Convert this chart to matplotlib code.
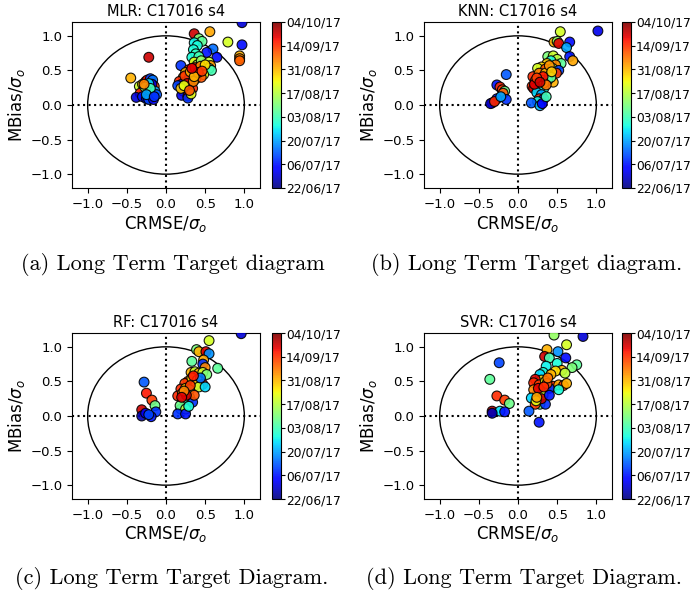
import numpy as np
import matplotlib
matplotlib.use('Agg')
import matplotlib.pyplot as plt
from matplotlib.patches import Circle

# colour axis: day index since 22/06/17
date_labels = ['22/06/17', '06/07/17', '20/07/17', '03/08/17',
               '17/08/17', '31/08/17', '14/09/17', '04/10/17']
n_days = 104

# MLR
mlr_x = [-0.45, -0.22, -0.34, -0.30, -0.26, -0.24, -0.20, -0.17, -0.15, -0.18, -0.22, -0.28, -0.33, -0.18,
         -0.22, -0.14, -0.38, -0.30, -0.25, -0.22, -0.16, -0.12, -0.27, -0.20, -0.25, -0.15, -0.28,
         0.97, 0.56, 0.36, 0.42, 0.46, 0.36, 0.40, 0.79, 0.97, 0.60, 0.52, 0.65, 0.94, 0.94, 0.94,
         0.35, 0.38, 0.33, 0.42, 0.36, 0.40, 0.45, 0.55, 0.57, 0.55, 0.58, 0.19, 0.29, 0.42, 0.35,
         0.25, 0.32, 0.48, 0.22, 0.17, 0.20, 0.27, 0.38, 0.30, 0.25, 0.34, 0.22, 0.28, 0.20, 0.28,
         0.28, 0.32, 0.15, 0.40, 0.45, 0.30,
         0.24, 0.31, 0.37, 0.44, 0.50, 0.27, 0.19, 0.35, 0.41, 0.23, 0.30, 0.36, 0.46, 0.33]
mlr_y = [0.39, 0.69, 0.27, 0.30, 0.34, 0.36, 0.38, 0.36, 0.27, 0.30, 0.31, 0.22, 0.17, 0.18,
         0.19, 0.20, 0.11, 0.12, 0.09, 0.08, 0.08, 0.15, 0.26, 0.24, 0.15, 0.12, 0.30,
         1.19, 1.06, 1.03, 0.96, 0.92, 0.90, 0.86, 0.91, 0.87, 0.81, 0.76, 0.69, 0.71, 0.67, 0.64,
         0.80, 0.74, 0.69, 0.70, 0.62, 0.58, 0.64, 0.62, 0.57, 0.53, 0.50, 0.57, 0.51, 0.50, 0.50,
         0.47, 0.44, 0.44, 0.40, 0.34, 0.30, 0.35, 0.38, 0.30, 0.25, 0.24, 0.20, 0.18, 0.14, 0.13,
         0.10, 0.16, 0.28, 0.45, 0.40, 0.40,
         0.42, 0.48, 0.54, 0.56, 0.58, 0.31, 0.24, 0.34, 0.47, 0.28, 0.21, 0.41, 0.49, 0.53]
mlr_d = [75, 97, 62, 72, 88, 92, 20, 25, 88, 10, 35, 90, 90, 50,
         38, 30, 8, 15, 5, 20, 12, 22, 55, 45, 30, 18, 80,
         8, 76, 97, 52, 48, 38, 40, 63, 14, 24, 15, 14, 75, 80, 84,
         40, 43, 40, 45, 65, 58, 55, 62, 78, 50, 45, 18, 90, 92, 70,
         75, 62, 65, 80, 90, 10, 85, 55, 60, 40, 90, 52, 30, 10, 97,
         18, 65, 20, 35, 85, 5,
         88, 76, 92, 80, 70, 95, 72, 80, 90, 65, 85, 75, 88, 95]

# KNN
knn_x = [-0.15, -0.27, -0.23, -0.20, -0.17, -0.19, -0.27, -0.33, -0.35, -0.30, -0.15, -0.22,
         1.02, 0.54, 0.46, 0.50, 0.52, 0.66, 0.62, 0.66, 0.70, 0.38, 0.45, 0.50, 0.42, 0.55,
         0.37, 0.48, 0.30, 0.25, 0.35, 0.44, 0.52, 0.29, 0.19, 0.27, 0.35, 0.49, 0.40, 0.45,
         0.22, 0.30, 0.38, 0.18, 0.20, 0.29, 0.26, 0.33, 0.24, 0.30, 0.27, 0.33, 0.25, 0.17,
         0.28, 0.31, 0.36, 0.42, 0.21, 0.33,
         0.32, 0.40, 0.24, 0.43, 0.36, 0.28]
knn_y = [0.44, 0.29, 0.26, 0.22, 0.20, 0.17, 0.09, 0.03, 0.02, 0.05, 0.08, 0.12,
         1.07, 1.06, 0.91, 0.92, 0.89, 0.91, 0.83, 0.70, 0.64, 0.70, 0.71, 0.66, 0.64, 0.60,
         0.60, 0.58, 0.55, 0.53, 0.52, 0.53, 0.50, 0.45, 0.41, 0.46, 0.46, 0.46, 0.42, 0.33,
         0.35, 0.36, 0.36, 0.27, 0.24, 0.27, 0.22, 0.24, 0.18, 0.15, 0.09, 0.09, 0.05, 0.03,
         -0.01, 0.02, 0.12, 0.40, 0.30, 0.32,
         0.41, 0.57, 0.39, 0.48, 0.29, 0.33]
knn_d = [22, 15, 90, 88, 50, 85, 15, 97, 8, 90, 18, 30,
         10, 63, 75, 55, 95, 14, 30, 15, 76, 52, 62, 60, 40, 48,
         72, 80, 70, 63, 85, 55, 20, 92, 90, 80, 75, 88, 65, 75,
         85, 60, 35, 90, 97, 85, 95, 40, 35, 30, 90, 18, 38, 22,
         32, 12, 45, 48, 95, 70,
         92, 78, 88, 72, 82, 97]

# RF
rf_x = [-0.28, -0.25, -0.18, -0.14, -0.31, -0.13, -0.19, -0.31, -0.26, -0.22,
        0.96, 0.55, 0.39, 0.42, 0.51, 0.55, 0.33, 0.48, 0.47, 0.66, 0.50, 0.32, 0.37, 0.42,
        0.47, 0.52, 0.28, 0.24, 0.33, 0.40, 0.47, 0.38, 0.42, 0.50, 0.19, 0.25, 0.30, 0.15,
        0.21, 0.28, 0.30, 0.34, 0.22, 0.19, 0.18, 0.25, 0.15, 0.25, 0.29, 0.36, 0.26, 0.44,
        0.31, 0.23, 0.35, 0.20]
rf_y = [0.49, 0.33, 0.23, 0.15, 0.09, 0.06, -0.01, 0.00, 0.04, 0.02,
        1.19, 1.09, 0.96, 0.93, 0.93, 0.90, 0.79, 0.81, 0.75, 0.69, 0.70, 0.63, 0.64, 0.62,
        0.63, 0.60, 0.50, 0.47, 0.55, 0.52, 0.46, 0.45, 0.42, 0.42, 0.39, 0.40, 0.38, 0.29,
        0.33, 0.21, 0.27, 0.20, 0.25, 0.10, 0.15, 0.10, 0.03, 0.03, 0.14, 0.30, 0.30, 0.55,
        0.44, 0.36, 0.58, 0.27]
rf_d = [22, 92, 88, 50, 97, 18, 15, 5, 12, 20,
        8, 63, 52, 75, 95, 28, 48, 76, 18, 48, 80, 75, 62, 75,
        62, 52, 90, 88, 70, 65, 97, 75, 62, 35, 90, 72, 55, 90,
        76, 90, 62, 18, 45, 35, 50, 60, 18, 15, 40, 85, 97, 25,
        88, 80, 92, 95]

# SVR
svr_x = [-0.24, -0.36, -0.27, -0.17, -0.11, -0.33, -0.23, -0.17, -0.33,
         0.83, 0.46, 0.62, 0.37, 0.34, 0.51, 0.61, 0.75, 0.69, 0.40, 0.50, 0.56, 0.48, 0.60,
         0.36, 0.32, 0.42, 0.28, 0.30, 0.22, 0.20, 0.27, 0.35, 0.45, 0.52, 0.58, 0.62, 0.40,
         0.37, 0.25, 0.32, 0.20, 0.17, 0.28, 0.22, 0.35, 0.30, 0.14, 0.27, 0.23, 0.40, 0.52,
         0.26, 0.33, 0.38, 0.24]
svr_y = [0.77, 0.53, 0.29, 0.23, 0.18, 0.07, 0.07, 0.06, 0.04,
         1.15, 1.17, 1.03, 0.96, 0.86, 0.93, 0.84, 0.74, 0.70, 0.84, 0.76, 0.66, 0.65, 0.62,
         0.72, 0.63, 0.60, 0.60, 0.52, 0.53, 0.48, 0.45, 0.50, 0.43, 0.45, 0.44, 0.47, 0.40,
         0.47, 0.33, 0.30, 0.38, 0.26, 0.17, 0.17, 0.17, 0.25, 0.07, -0.09, 0.22, 0.30, 0.38,
         0.40, 0.42, 0.55, 0.27]
svr_d = [20, 48, 90, 88, 50, 97, 36, 15, 5,
         8, 55, 63, 75, 97, 28, 14, 48, 52, 45, 40, 75, 70, 60,
         38, 40, 75, 35, 72, 95, 90, 88, 65, 90, 76, 88, 75, 18,
         85, 90, 62, 80, 35, 50, 88, 18, 97, 22, 15, 65, 15, 40,
         95, 90, 82, 76]

panels = [('MLR', mlr_x, mlr_y, mlr_d, '(a) Long Term Target diagram'),
          ('KNN', knn_x, knn_y, knn_d, '(b) Long Term Target diagram.'),
          ('RF', rf_x, rf_y, rf_d, '(c) Long Term Target Diagram.'),
          ('SVR', svr_x, svr_y, svr_d, '(d) Long Term Target Diagram.')]

W, H = 691, 591
fig = plt.figure(figsize=(W / 100, H / 100), dpi=100)

ax_left = [72, 424]
cb_gap = [200, 198]
ax_top = [22, 333]
cap_x = [173, 527, 172, 524]
cap_y = [265, 578]

for i, (name, xs, ys, ds, cap) in enumerate(panels):
    col, row = i % 2, i // 2
    l = ax_left[col] / W
    b = 1 - (ax_top[row] + 166) / H
    ax = fig.add_axes([l, b, 188 / W, 166 / H])
    cax = fig.add_axes([l + cb_gap[col] / W, b, 9 / W, 166 / H])

    ax.add_patch(Circle((0, 0), 1, fill=False, color='k', lw=1))
    ax.axhline(0, color='k', ls=':', lw=1.5)
    ax.axvline(0, color='k', ls=':', lw=1.5)
    sc = ax.scatter(xs, ys, c=ds, cmap='jet', vmin=0, vmax=n_days, s=50,
                    edgecolors='k', linewidths=0.8, alpha=0.9, zorder=3)
    ax.set_xlim(-1.2, 1.2)
    ax.set_ylim(-1.2, 1.2)
    ax.set_xticks([-1.0, -0.5, 0.0, 0.5, 1.0])
    ax.set_yticks([-1.0, -0.5, 0.0, 0.5, 1.0])
    ax.tick_params(labelsize=9.5)
    ax.set_title(name + ': C17016 s4', fontsize=10.5, pad=4)
    ax.set_xlabel(r'CRMSE/$\sigma_o$', fontsize=12, labelpad=2)
    ax.set_ylabel(r'MBias/$\sigma_o$', fontsize=12, labelpad=2)

    cb = fig.colorbar(sc, cax=cax)
    cb.set_ticks(np.linspace(0, n_days, len(date_labels)))
    cb.set_ticklabels(date_labels)
    cb.ax.tick_params(labelsize=8.8, pad=0.5, length=3)

    fig.text(cap_x[i] / W, 1 - cap_y[row] / H, cap, ha='center', va='center',
             fontsize=16, family='cmr10')

plt.savefig('out.png', dpi=100)
